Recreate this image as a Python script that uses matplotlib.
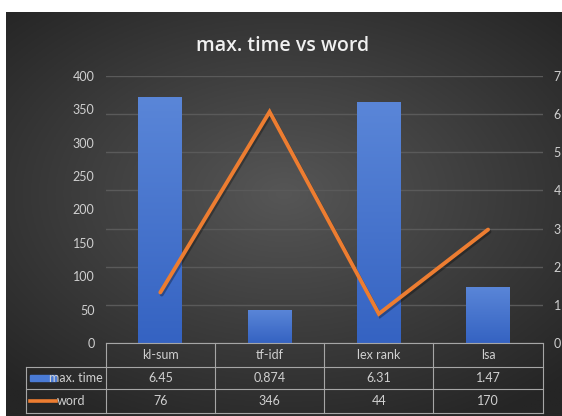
import numpy as np
import matplotlib
matplotlib.use("Agg")
import matplotlib.pyplot as plt
import matplotlib.patheffects as pe
from matplotlib.patches import Rectangle
from matplotlib.colors import LinearSegmentedColormap

categories = ["kl-sum", "tf-idf", "lex rank", "lsa"]
max_time = [6.45, 0.874, 6.31, 1.47]
word = [76, 346, 44, 170]
series_names = ["max. time", "word"]

left_ticks = [0, 50, 100, 150, 200, 250, 300, 350, 400]
right_ticks = [0, 1, 2, 3, 4, 5, 6, 7]

BLUE = "#4472C4"
ORANGE = "#ED7D31"
TXT = "#d0d0d0"
GRID = "#5a5a5a"
TABLE_LINE = "#a6a6a6"
FS = 9

plt.rcParams["font.family"] = ["Lato", "DejaVu Sans"]

W, H = 562, 416
fig = plt.figure(figsize=(W / 100, H / 100), dpi=100)
fig.patch.set_facecolor("white")


def fx(x):
    return x / W


def fy(y):
    return 1 - y / H


# dark radial backdrop
bg = fig.add_axes([fx(6), 0, fx(W - 6), 1 - 12 / H], zorder=-10)
gx, gy = np.meshgrid(np.linspace(-1, 1, 300), np.linspace(-1, 1, 220))
r = np.clip(np.sqrt((gx * 0.9) ** 2 + ((gy + 0.1) * 1.0) ** 2) / 1.3, 0, 1)
shade = 0x56 / 255 * (1 - r) + 0x25 / 255 * r
bg.imshow(np.dstack([shade] * 3), aspect="auto", extent=[0, 1, 0, 1])
bg.set_axis_off()

# plot area
x0, x1 = 105.7, 542.7
ytop, ybot = 75.7, 343.3
ax = fig.add_axes([fx(x0), fy(ybot), fx(x1 - x0), (ybot - ytop) / H])
ax2 = ax.twinx()
ax.set_zorder(ax2.get_zorder() + 1)
ax.patch.set_visible(False)
ax2.patch.set_visible(False)

xs = np.arange(len(categories))
ax2.set_ylim(0, 7)
ax2.set_yticks(right_ticks)
ax2.grid(axis="y", color=GRID, linewidth=1.0)
ax2.set_axisbelow(True)

bars = ax2.bar(xs, max_time, width=0.4, color=BLUE, zorder=2)
grad = np.linspace(0, 1, 100).reshape(-1, 1)
bar_cmap = LinearSegmentedColormap.from_list("barfade", ["#3563c2", "#5a86d8"])
for b in bars:
    bx, bw, bh = b.get_x(), b.get_width(), b.get_height()
    im = ax2.imshow(grad, cmap=bar_cmap, aspect="auto", origin="lower",
                    extent=[bx, bx + bw, 0, bh], zorder=3)
    im.set_clip_path(b)

ax.plot(xs, word, color=ORANGE, linewidth=2.8, solid_capstyle="round",
        solid_joinstyle="miter", zorder=5,
        path_effects=[pe.SimpleLineShadow(offset=(1, -1.5), shadow_color="black", alpha=0.3),
                      pe.Normal()])
ax.set_ylim(0, 400)
ax.set_yticks(left_ticks)
ax.set_xlim(-0.5, len(categories) - 0.5)
ax2.set_xlim(-0.5, len(categories) - 0.5)
ax.set_xticks([])

for a in (ax, ax2):
    for s in a.spines.values():
        s.set_visible(False)
    a.tick_params(axis="y", length=0, labelsize=FS, labelcolor=TXT, pad=8)

fig.text(fx(283), fy(46), "max. time vs word", ha="center", va="center",
         fontsize=14, color="#f0f0f0", family=["Open Sans", "DejaVu Sans"],
         fontweight="semibold")

# data table under the plot
col_edges = np.linspace(x0, x1, len(categories) + 1)
row_edges = [343.3, 366.7, 389.3, 413.3]
key_left = 26
lw = 0.8


def hline(y, xa, xb):
    fig.add_artist(plt.Line2D([fx(xa), fx(xb)], [fy(y), fy(y)], color=TABLE_LINE, lw=lw))


def vline(x, ya, yb):
    fig.add_artist(plt.Line2D([fx(x), fx(x)], [fy(ya), fy(yb)], color=TABLE_LINE, lw=lw))


hline(row_edges[0], x0, x1)
for y in row_edges[1:]:
    hline(y, key_left, x1)
for x in col_edges:
    vline(x, row_edges[0], row_edges[-1])
vline(key_left, row_edges[1], row_edges[-1])

for i, name in enumerate(categories):
    cx = (col_edges[i] + col_edges[i + 1]) / 2
    fig.text(fx(cx), fy((row_edges[0] + row_edges[1]) / 2), name,
             ha="center", va="center", fontsize=FS, color=TXT)
    fig.text(fx(cx), fy((row_edges[1] + row_edges[2]) / 2), str(max_time[i]),
             ha="center", va="center", fontsize=FS, color=TXT)
    fig.text(fx(cx), fy((row_edges[2] + row_edges[3]) / 2), str(word[i]),
             ha="center", va="center", fontsize=FS, color=TXT)

# legend keys inside the table
ym1 = (row_edges[1] + row_edges[2]) / 2
ym2 = (row_edges[2] + row_edges[3]) / 2
fig.add_artist(Rectangle((fx(30), fy(ym1 + 3)), fx(26), 6 / H, color="#4a7bd6"))
fig.add_artist(plt.Line2D([fx(30), fx(56)], [fy(ym2), fy(ym2)], color=ORANGE, lw=2.6))
fig.text(fx(103), fy(ym1), series_names[0], ha="right", va="center", fontsize=FS, color=TXT)
fig.text(fx(57), fy(ym2), series_names[1], ha="left", va="center", fontsize=FS, color=TXT)

fig.savefig("out.png", dpi=100, facecolor=fig.get_facecolor())
